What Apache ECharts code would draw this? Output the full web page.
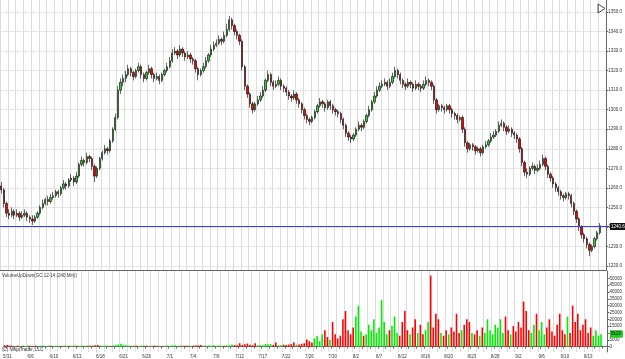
<!DOCTYPE html>
<html><head><meta charset="utf-8">
<script src="https://cdn.jsdelivr.net/npm/echarts@6/dist/echarts.min.js"></script>
<style>html,body{margin:0;padding:0;background:#fff}#c{width:625px;height:359px}</style>
</head><body><div id="c"></div>
<script>
const dateLabels = ["5/31","6/6","6/10","6/13","6/18","6/21","6/26","7/1","7/4","7/9","7/12","7/17","7/22","7/26","7/30","8/2","8/7","8/12","8/16","8/20","8/23","8/28","9/2","9/6","9/10","9/13"];

const opens = [1261,1259,1252,1247,1246,1248,1246,1247,1245,1246,
1247,1245,1244,1243,1245,1247,1250,1252,1254,1253,
1255,1256,1258,1257,1260,1262,1261,1264,1265,1263,
1266,1272,1274,1273,1276,1275,1271,1266,1270,1275,
1278,1280,1279,1284,1290,1296,1310,1314,1316,1318,
1321,1319,1317,1320,1322,1318,1316,1319,1321,1318,
1316,1317,1315,1318,1320,1322,1325,1329,1330,1328,
1331,1329,1327,1328,1326,1325,1321,1318,1320,1322,
1325,1328,1331,1333,1334,1336,1335,1338,1341,1346,
1343,1340,1338,1335,1322,1312,1308,1303,1300,1303,
1305,1307,1310,1315,1318,1314,1312,1313,1315,1312,
1311,1309,1307,1306,1308,1305,1303,1300,1297,1295,
1294,1296,1299,1302,1304,1303,1301,1304,1302,1300,
1299,1298,1295,1292,1288,1286,1285,1287,1290,1292,
1291,1294,1297,1300,1304,1307,1310,1312,1313,1314,
1312,1314,1317,1320,1318,1315,1313,1312,1314,1313,
1311,1313,1312,1311,1313,1315,1314,1312,1305,1300,
1302,1301,1300,1302,1300,1298,1297,1295,1296,1290,
1283,1280,1282,1281,1279,1280,1278,1281,1282,1284,
1286,1287,1289,1292,1293,1291,1289,1290,1288,1287,
1285,1280,1273,1268,1267,1270,1271,1269,1270,1272,
1275,1271,1267,1265,1262,1260,1258,1256,1255,1257,
1256,1252,1248,1244,1240,1236,1234,1231,1228,1230,
1234,1237];

const closes = [1259,1252,1247,1246,1248,1246,1247,1245,1246,1247,
1245,1244,1243,1245,1247,1250,1252,1254,1253,1255,
1256,1258,1257,1260,1262,1261,1264,1265,1263,1266,
1272,1274,1273,1276,1275,1271,1266,1270,1275,1278,
1280,1279,1284,1290,1296,1310,1314,1316,1318,1321,
1319,1317,1320,1322,1318,1316,1319,1321,1318,1316,
1317,1315,1318,1320,1322,1325,1329,1330,1328,1331,
1329,1327,1328,1326,1325,1321,1318,1320,1322,1325,
1328,1331,1333,1334,1336,1335,1338,1341,1346,1343,
1340,1338,1335,1322,1312,1308,1303,1300,1303,1305,
1307,1310,1315,1318,1314,1312,1313,1315,1312,1311,
1309,1307,1306,1308,1305,1303,1300,1297,1295,1294,
1296,1299,1302,1304,1303,1301,1304,1302,1300,1299,
1298,1295,1292,1288,1286,1285,1287,1290,1292,1291,
1294,1297,1300,1304,1307,1310,1312,1313,1314,1312,
1314,1317,1320,1318,1315,1313,1312,1314,1313,1311,
1313,1312,1311,1313,1315,1314,1312,1305,1300,1302,
1301,1300,1302,1300,1298,1297,1295,1296,1290,1283,
1280,1282,1281,1279,1280,1278,1281,1282,1284,1286,
1287,1289,1292,1293,1291,1289,1290,1288,1287,1285,
1280,1273,1268,1267,1270,1271,1269,1270,1272,1275,
1271,1267,1265,1262,1260,1258,1256,1255,1257,1256,
1252,1248,1244,1240,1236,1234,1231,1228,1230,1234,
1237,1240.6];

const lows = [1257,1250,1245,1244,1245,1244,1245,1243,1244,1245,
1243,1242,1241,1242,1244,1246,1249,1251,1251,1252,
1254,1255,1255,1256,1259,1259,1260,1263,1261,1262,
1265,1271,1271,1272,1273,1269,1263,1265,1269,1274,
1277,1277,1278,1283,1289,1295,1308,1312,1314,1317,
1317,1315,1316,1319,1316,1314,1315,1318,1316,1314,
1315,1313,1314,1317,1319,1321,1324,1328,1326,1327,
1327,1325,1326,1324,1323,1319,1315,1317,1319,1321,
1324,1327,1330,1332,1333,1333,1334,1337,1340,1341,
1338,1336,1333,1320,1310,1306,1301,1298,1299,1302,
1304,1306,1309,1314,1312,1310,1311,1312,1310,1309,
1307,1305,1304,1305,1303,1301,1298,1295,1293,1292,
1293,1295,1298,1301,1301,1299,1300,1300,1298,1297,
1296,1293,1290,1286,1284,1283,1284,1286,1289,1289,
1290,1293,1296,1299,1303,1306,1309,1311,1312,1310,
1311,1313,1316,1316,1313,1311,1310,1311,1311,1309,
1310,1310,1309,1310,1312,1312,1310,1303,1298,1299,
1299,1298,1299,1298,1296,1295,1293,1294,1288,1281,
1278,1279,1279,1277,1278,1276,1277,1280,1281,1283,
1285,1286,1288,1291,1289,1287,1288,1286,1285,1283,
1278,1271,1266,1265,1266,1269,1267,1268,1269,1271,
1269,1265,1263,1260,1258,1256,1254,1253,1254,1254,
1250,1246,1242,1238,1234,1232,1229,1225,1227,1229,
1233,1236];

const highs = [1263,1260,1253,1249,1250,1249,1249,1248,1248,1249,
1248,1246,1246,1246,1248,1251,1254,1255,1256,1257,
1258,1259,1259,1261,1264,1263,1265,1267,1266,1268,
1273,1276,1275,1278,1277,1276,1272,1271,1276,1279,
1282,1281,1285,1291,1298,1312,1316,1318,1320,1323,
1322,1320,1321,1324,1323,1319,1320,1323,1322,1319,
1319,1318,1319,1321,1324,1327,1331,1332,1331,1333,
1332,1330,1330,1329,1327,1326,1322,1321,1324,1327,
1329,1333,1335,1336,1338,1337,1340,1344,1348,1347,
1344,1341,1339,1336,1323,1313,1309,1304,1304,1307,
1309,1312,1316,1320,1319,1315,1315,1317,1316,1313,
1312,1310,1308,1310,1309,1306,1304,1301,1298,1296,
1297,1300,1303,1306,1305,1304,1305,1305,1303,1301,
1300,1299,1296,1293,1289,1287,1288,1291,1294,1293,
1295,1298,1302,1305,1309,1312,1314,1315,1316,1315,
1316,1319,1322,1321,1319,1316,1314,1316,1315,1314,
1315,1314,1313,1315,1317,1316,1315,1313,1306,1303,
1303,1302,1303,1303,1301,1299,1298,1297,1297,1291,
1284,1283,1283,1282,1281,1281,1282,1284,1285,1288,
1289,1290,1294,1295,1294,1292,1292,1291,1289,1288,
1286,1281,1274,1270,1271,1273,1272,1272,1274,1277,
1276,1272,1268,1266,1263,1261,1259,1257,1258,1258,
1257,1253,1249,1245,1241,1237,1235,1232,1231,1235,
1238,1242];

const volumes = [900,1200,800,600,500,700,400,600,500,800,
600,500,700,400,600,800,500,700,600,500,
600,700,500,800,600,500,700,900,600,500,
800,700,600,900,700,1000,1200,800,600,700,
600,500,800,1200,1500,2000,1400,900,700,800,
600,700,500,800,600,700,500,600,800,500,
600,500,700,800,600,900,1000,700,600,800,
700,600,500,700,800,900,1200,700,600,800,
700,900,600,800,700,600,900,1000,1500,1200,
900,2500,1200,1800,2200,1400,1000,2400,900,1200,
1000,2000,1500,1800,1200,3000,1000,900,1400,1200,
1500,1800,3200,1400,1600,2000,2500,5200,4000,3000,
6000,8000,4000,9000,12000,7000,5000,18000,9000,6000,
8000,20000,26000,12000,9000,14000,22000,30000,11000,8000,
9000,16000,12000,20000,10000,14000,34000,18000,9000,12000,
15000,22000,10000,8000,18000,26000,12000,9000,14000,20000,
10000,16000,9000,12000,18000,52000,14000,24000,20000,10000,
8000,12000,9000,14000,11000,24000,10000,12000,16000,20000,
18000,10000,9000,12000,8000,14000,10000,20000,12000,9000,
16000,14000,20000,10000,22000,12000,9000,15000,11000,18000,
14000,33000,26000,12000,10000,16000,24000,12000,18000,9000,
14000,20000,11000,8000,16000,24000,12000,9000,22000,10000,
30000,18000,24000,12000,16000,20000,10000,14000,8000,12000,
8000,9113];

const priceTicks = [1220,1230,1240,1250,1260,1270,1280,1290,1300,1310,1320,1330,1340,1350];
const volumeTicks = [0,5000,10000,15000,20000,25000,30000,35000,40000,45000,50000];
const barsPerLabel = 9;
const totalSlots = dateLabels.length * barsPerLabel;

const categories = [];
for (let i = 0; i < totalSlots; i++) categories.push(String(i));
const candleData = opens.map((o, i) => [o, closes[i], lows[i], highs[i]]);
const lastPrice = closes[closes.length - 1];
const lastVolume = volumes[volumes.length - 1];

const isLabel = (i) => (i - 1) % barsPerLabel === 0 && i >= 1;
const labelFor = (i) => dateLabels[(i - 1) / barsPerLabel] || '';
const FONT = 'Liberation Sans';
const gridW = 609;

const chart = echarts.init(document.getElementById('c'), null, {renderer: 'canvas'});
chart.setOption({
  animation: false,
  backgroundColor: '#ffffff',
  grid: [
    {left: 0, top: 0, width: gridW, height: 270},
    {left: 0, top: 271, width: gridW, height: 81}
  ],
  xAxis: [
    {type: 'category', gridIndex: 0, data: categories, boundaryGap: true,
     axisLine: {show: true, lineStyle: {color: '#666', width: 1}},
     axisTick: {show: false}, axisLabel: {show: false},
     splitLine: {show: true, interval: (i) => i % 3 === 0, lineStyle: {color: '#dcdcdc', width: 1}}},
    {type: 'category', gridIndex: 1, data: categories, boundaryGap: true,
     axisLine: {show: true, lineStyle: {color: '#666', width: 1}},
     axisTick: {show: true, interval: (i) => i % 3 === 1, length: 2, lineStyle: {color: '#666'}},
     axisLabel: {show: true, interval: (i) => isLabel(i), formatter: (v, i) => labelFor(i),
       fontSize: 4.5, fontFamily: FONT, color: '#333', margin: 2},
     splitLine: {show: true, interval: (i) => i % 3 === 0, lineStyle: {color: '#dcdcdc', width: 1}}}
  ],
  yAxis: [
    {type: 'value', gridIndex: 0, position: 'right', min: 1217.95, max: 1356.14, scale: true,
     axisLine: {show: true, lineStyle: {color: '#666'}},
     axisTick: {show: true, length: 2, customValues: priceTicks, lineStyle: {color: '#666'}},
     axisLabel: {show: true, customValues: priceTicks, formatter: (v) => v.toFixed(1),
       fontSize: 4.5, fontFamily: FONT, color: '#333', margin: 2},
     splitLine: {show: true, lineStyle: {color: '#e6e6e6', width: 1}}},
    {type: 'value', gridIndex: 1, position: 'right', min: -3953, max: 55344,
     axisLine: {show: true, lineStyle: {color: '#666'}},
     axisTick: {show: true, length: 2, customValues: volumeTicks, lineStyle: {color: '#666'}},
     axisLabel: {show: true, customValues: volumeTicks, formatter: (v) => String(v),
       fontSize: 4.5, fontFamily: FONT, color: '#333', margin: 2},
     splitLine: {show: false}}
  ],
  series: [
    {type: 'candlestick', xAxisIndex: 0, yAxisIndex: 0, data: candleData, barWidth: 1.8, z: 2,
     itemStyle: {color: '#32cd32', color0: '#ff0000', borderColor: '#000', borderColor0: '#000', borderWidth: 0.6}},
    {type: 'bar', xAxisIndex: 1, yAxisIndex: 1, data: volumes, barWidth: 1.6,
     itemStyle: {color: (p) => closes[p.dataIndex] >= opens[p.dataIndex] ? '#00ee00' : '#ff0000'}}
  ],
  graphic: [
    {type: 'text', left: 2, top: 273, style: {text: 'VolumeUpDown(GC 12-14 (240 Min))', fontSize: 4.5, fontFamily: FONT, fill: '#333'}},
    {type: 'text', left: 2, top: 347, style: {text: '(C) NinjaTrader, LLC', fontSize: 4.5, fontFamily: FONT, fill: '#333'}},
    {type: 'polygon', shape: {points: [[598, 4], [598, 13], [605, 8.5]]}, style: {fill: 'none', stroke: '#444', lineWidth: 1}},
    {type: 'line', shape: {x1: 606.5, y1: 4, x2: 606.5, y2: 13}, style: {stroke: '#444', lineWidth: 1}}
  ]
});

// last-price line and value tags, positioned through the chart's own scales
const yPrice = Math.round(chart.convertToPixel({yAxisIndex: 0}, lastPrice)) + 0.5;
const yVol = chart.convertToPixel({yAxisIndex: 1}, lastVolume);
chart.setOption({
  graphic: [
    {type: 'text', left: 2, top: 273, style: {text: 'VolumeUpDown(GC 12-14 (240 Min))', fontSize: 4.5, fontFamily: FONT, fill: '#333'}},
    {type: 'text', left: 2, top: 347, style: {text: '(C) NinjaTrader, LLC', fontSize: 4.5, fontFamily: FONT, fill: '#333'}},
    {type: 'polygon', shape: {points: [[598, 4], [598, 13], [605, 8.5]]}, style: {fill: 'none', stroke: '#444', lineWidth: 1}},
    {type: 'line', shape: {x1: 606.5, y1: 4, x2: 606.5, y2: 13}, style: {stroke: '#444', lineWidth: 1}},
    {type: 'line', z: 10, shape: {x1: 0, y1: yPrice, x2: gridW, y2: yPrice}, style: {stroke: '#3c3cff', lineWidth: 1}},
    {type: 'rect', z: 11, shape: {x: gridW + 1, y: yPrice - 3.5, width: 15, height: 7}, style: {fill: '#111'}},
    {type: 'text', z: 12, x: gridW + 2, y: yPrice - 2.5, style: {text: lastPrice.toFixed(1), fontSize: 4.5, fontFamily: FONT, fill: '#fff'}},
    {type: 'rect', z: 11, shape: {x: gridW + 1, y: yVol - 3.5, width: 13, height: 7}, style: {fill: '#22cc22'}},
    {type: 'text', z: 12, x: gridW + 2, y: yVol - 2.5, style: {text: String(lastVolume), fontSize: 4.5, fontFamily: FONT, fill: '#000'}}
  ]
}, {replaceMerge: ['graphic']});
</script></body></html>
